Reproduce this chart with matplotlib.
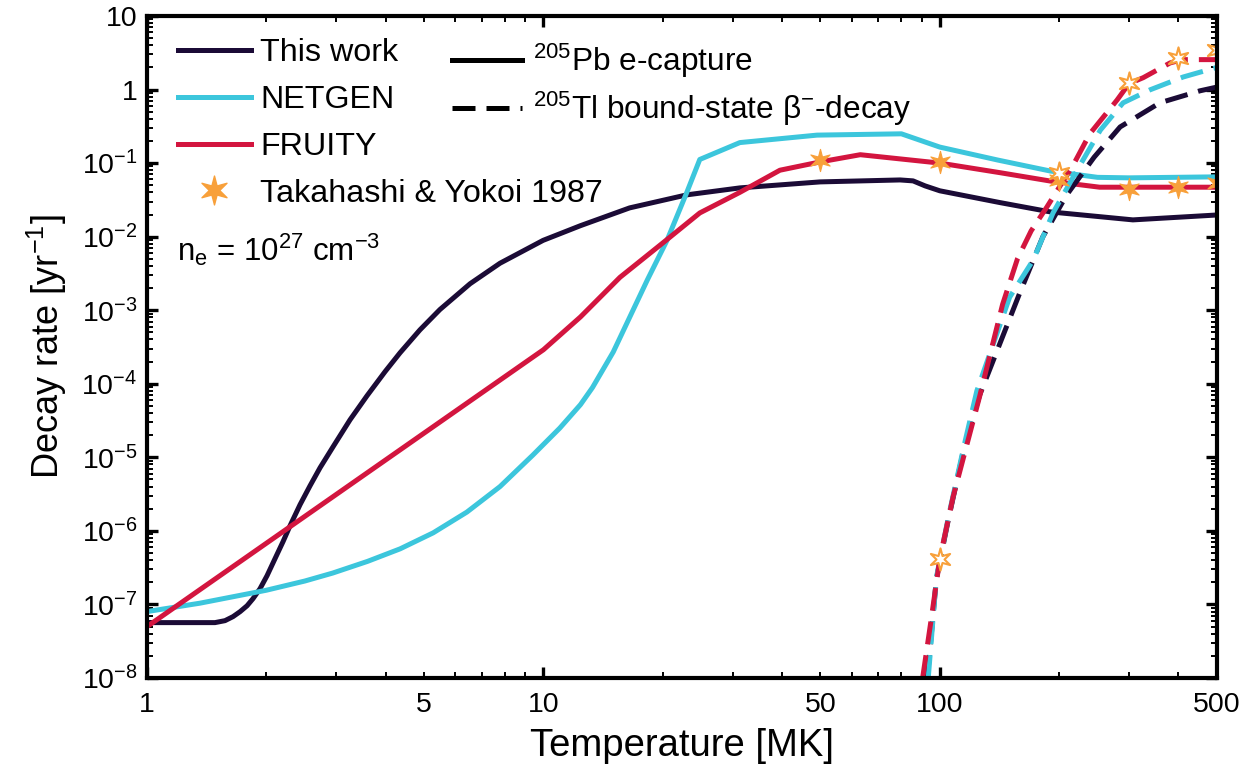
# Decay rate of 205Pb / 205Tl vs temperature, log-log
import math
import matplotlib
matplotlib.use("Agg")
import matplotlib.pyplot as plt
from matplotlib.path import Path
from matplotlib.lines import Line2D
from matplotlib.ticker import LogLocator, FuncFormatter, NullFormatter

plt.rcParams['font.family'] = ['Liberation Sans', 'DejaVu Sans']
plt.rcParams['mathtext.fontset'] = 'custom'
plt.rcParams['mathtext.rm'] = 'Liberation Sans'
plt.rcParams['mathtext.it'] = 'Liberation Sans:italic'
plt.rcParams['mathtext.bf'] = 'Liberation Sans:bold'
plt.rcParams['mathtext.sf'] = 'Liberation Sans'

# === data ===
# 205Pb electron capture (solid)
this_T = [1, 1.484, 1.573, 1.648, 1.717, 1.788, 1.851, 1.928, 2.008, 2.103, 2.203,
          2.296, 2.432, 2.578, 2.732, 2.946, 3.252, 3.589, 3.985, 4.346, 4.88, 5.48,
          6.53, 7.77, 9.98, 12.4, 16.5, 23.0, 31.3, 49.9, 79.4, 85.6, 91.8, 100,
          142, 190, 307, 500]
this_ec = [5.66e-8, 5.66e-8, 6.02e-8, 6.83e-8, 7.98e-8, 9.6e-8, 1.2e-7, 1.64e-7,
           2.46e-7, 4.19e-7, 7.13e-7, 1.18e-6, 2.27e-6, 4.11e-6, 7.22e-6, 1.39e-5,
           3.24e-5, 6.87e-5, 1.46e-4, 2.63e-4, 5.4e-4, 1.02e-3, 2.29e-3, 4.35e-3,
           8.9e-3, 0.0141, 0.0246, 0.037, 0.046, 0.0555, 0.059, 0.0573, 0.049,
           0.042, 0.029, 0.0217, 0.0169, 0.0197]

netgen_T = [1, 1.36, 2.0, 2.5, 2.94, 3.6, 4.35, 5.27, 6.41, 7.77, 9.4, 11.0, 12.4,
            13.3, 15.0, 18.3, 20.5, 23.0, 24.8, 31.3, 49, 80, 100, 140, 190, 250,
            300, 500]
netgen_ec = [8e-8, 1.04e-7, 1.56e-7, 2.08e-7, 2.67e-7, 3.85e-7, 5.7e-7, 9.4e-7, 1.8e-6,
             4.0e-6, 1.07e-5, 2.5e-5, 5.2e-5, 8.9e-5, 2.7e-4, 2.6e-3, 8.9e-3, 0.04,
             0.112, 0.19, 0.24, 0.25, 0.165, 0.11, 0.078, 0.064, 0.063, 0.065]

fruity_T = [1, 10, 12.4, 15.6, 20, 24.8, 31.3, 39.5, 50, 63, 100, 142, 190, 253, 500]
fruity_ec = [5e-8, 2.9e-4, 8.1e-4, 2.8e-3, 8.2e-3, 0.021, 0.04, 0.08, 0.104, 0.13,
             0.1, 0.074, 0.057, 0.047, 0.047]

# 205Tl bound-state beta decay (dashed)
this_bs_T = [93, 98, 105, 115, 126, 159, 182, 209, 245, 285, 359, 453, 500]
this_bs = [1e-8, 2.2e-7, 1.4e-6, 1.3e-5, 7e-5, 1.7e-3, 0.01, 0.037, 0.12, 0.31,
           0.66, 0.96, 1.08]

netgen_bs_T = [93.5, 98, 105, 115, 124, 150, 172, 193, 222, 254, 290, 339, 411, 500]
netgen_bs = [1e-8, 2.3e-7, 1.5e-6, 1.4e-5, 8e-5, 1.5e-3, 4.8e-3, 0.021, 0.08, 0.28,
             0.66, 0.99, 1.48, 2.0]

fruity_bs_T = [90.5, 95, 100, 108, 126, 144, 157, 170, 186, 217, 239, 280, 300, 326,
               381, 410, 500]
fruity_bs = [1e-8, 6e-8, 4.2e-7, 2.9e-6, 6.7e-5, 1.2e-3, 5e-3, 0.012, 0.025, 0.094,
             0.25, 0.72, 1.2, 1.45, 2.3, 2.55, 2.55]

# Takahashi & Yokoi 1987
ty_ec_T = [50, 100, 200, 300, 400, 500]
ty_ec = [0.11, 0.104, 0.058, 0.045, 0.048, 0.054]
ty_bs_T = [100, 200, 300, 400, 500]
ty_bs = [4.2e-7, 0.074, 1.22, 2.7, 3.4]

navy = '#1b0b36'
cyan = '#3cc6dc'
red = '#d3153f'
orange = '#f8a03a'

lw = 3.6
dash = (4.6, 2.2)
star = Path.unit_regular_star(6, innerCircle=0.36)

fig = plt.figure(figsize=(12.44, 7.68), dpi=100)
ax = fig.add_axes([0.1182, 0.1172, 0.860, 0.862])

ax.plot(this_T, this_ec, color=navy, lw=lw)
ax.plot(netgen_T, netgen_ec, color=cyan, lw=lw)
ax.plot(fruity_T, fruity_ec, color=red, lw=lw)

ax.plot(this_bs_T, this_bs, color=navy, lw=lw, dashes=dash)
ax.plot(netgen_bs_T, netgen_bs, color=cyan, lw=lw, dashes=dash)
ax.plot(fruity_bs_T, fruity_bs, color=red, lw=lw, dashes=dash)

ax.plot(ty_ec_T, ty_ec, ls='none', marker=star, ms=16, mfc=orange, mec=orange, mew=0.8)
ax.plot(ty_bs_T, ty_bs, ls='none', marker=star, ms=16, mfc='white', mec=orange, mew=1.5)

ax.set_xscale('log')
ax.set_yscale('log')
ax.set_xlim(1, 500)
ax.set_ylim(1e-8, 10)

# ticks
ax.xaxis.set_major_locator(LogLocator(base=10, numticks=10))
ax.xaxis.set_minor_locator(LogLocator(base=10, subs=range(2, 10), numticks=10))
ax.xaxis.set_major_formatter(FuncFormatter(lambda v, p: '%g' % v))
ax.xaxis.set_minor_formatter(FuncFormatter(
    lambda v, p: '%g' % v if round(v) in (5, 50, 500) else ''))
ax.yaxis.set_major_locator(LogLocator(base=10, numticks=20))
ax.yaxis.set_minor_locator(LogLocator(base=10, subs=range(2, 10), numticks=20))


def ylab(v, p):
    if v >= 10:
        return '10'
    if abs(v - 1) < 1e-9:
        return '1'
    e = int(round(math.log10(v)))
    return r'$\mathregular{10^{%d}}$' % e


ax.yaxis.set_major_formatter(FuncFormatter(ylab))
ax.yaxis.set_minor_formatter(NullFormatter())

ax.tick_params(which='both', direction='in', top=True, right=True)
ax.tick_params(which='major', length=8, width=2.4, labelsize=20.5)
ax.tick_params(which='minor', length=4.5, width=1.4, labelsize=20.5)
ax.tick_params(axis='x', which='both', pad=10)
ax.tick_params(axis='y', which='both', pad=7)
for s in ax.spines.values():
    s.set_linewidth(3)

ax.set_xlabel('Temperature [MK]', fontsize=27.5, labelpad=7)
ax.set_ylabel('Decay rate [yr$^{-1}$]', fontsize=26, labelpad=9)

# legends
h1 = [Line2D([], [], color=navy, lw=lw),
      Line2D([], [], color=cyan, lw=lw),
      Line2D([], [], color=red, lw=lw),
      Line2D([], [], ls='none', marker=star, ms=16, mfc=orange, mec=orange)]
l1 = ['This work', 'NETGEN', 'FRUITY', 'Takahashi & Yokoi 1987']
leg1 = ax.legend(h1, l1, loc='upper left', bbox_to_anchor=(0.029, 0.966),
                 frameon=False, fontsize=23.2, handlelength=2.25, handletextpad=0.3,
                 labelspacing=0.52, borderpad=0, borderaxespad=0, markerscale=1.3)
ax.add_artist(leg1)

h2 = [Line2D([], [], color='black', lw=lw),
      Line2D([], [], color='black', lw=lw, dashes=dash)]
l2 = ['$^{205}$Pb e-capture', '$^{205}$Tl bound-state β$^{-}$-decay']
ax.legend(h2, l2, loc='upper left', bbox_to_anchor=(0.285, 0.961),
          frameon=False, fontsize=22.8, handlelength=2.2, handletextpad=0.35,
          labelspacing=0.3, borderpad=0, borderaxespad=0)

ax.text(0.028, 0.647, r'n$_\mathregular{e}$ = 10$^{27}$ cm$^{-3}$', transform=ax.transAxes,
        fontsize=22.5, va='center', ha='left')

fig.savefig('out.png', dpi=100)
